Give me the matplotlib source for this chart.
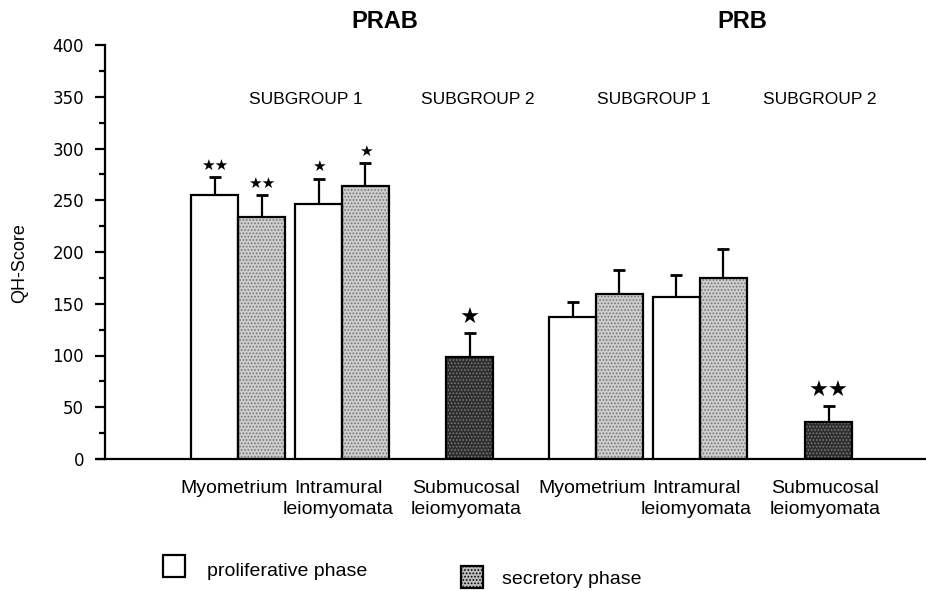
import numpy as np
import matplotlib.pyplot as plt
from matplotlib.patches import Rectangle
from matplotlib.transforms import blended_transform_factory

plt.rcParams['font.family'] = ['Liberation Sans', 'DejaVu Sans']
plt.rcParams['hatch.linewidth'] = 0.8

# data (QH-score)
tissues = ["Myometrium", "Intramural\nleiomyomata", "Submucosal\nleiomyomata"]
panels = ["PRAB", "PRB"]

prab_prolif = [255, 246]
prab_prolif_err = [17, 25]
prab_secr = [234, 264]
prab_secr_err = [21, 22]
prab_sub = 99
prab_sub_err = 23

prb_prolif = [137, 157]
prb_prolif_err = [15, 21]
prb_secr = [159, 175]
prb_secr_err = [24, 28]
prb_sub = 36
prb_sub_err = 15

# significance marks: prolif1, secr1, prolif2, secr2, submucosal
prab_marks = ["★★", "★★", "★", "★", "★"]
prb_marks = ["", "", "", "", "★★"]

# layout (x units ~ pixels right of the y axis)
W = 47
centers = [133, 237, 365, 491, 595, 724]

fig = plt.figure(figsize=(9.26, 5.91), dpi=100)
ax = fig.add_axes([97/926, 132/591, 829/926, 414/591])
ax.set_xlim(-8, 821)
ax.set_ylim(0, 400)


def stippled(xs, hs, face):
    ax.bar(xs, hs, width=W, color=face, edgecolor='#777777', linewidth=0,
           hatch='.....', zorder=2)
    ax.bar(xs, hs, width=W, facecolor='none', edgecolor='black',
           linewidth=1.6, zorder=3)


def up_err(xs, hs, es):
    ax.errorbar(xs, hs, yerr=[np.zeros(len(es)), es], fmt='none',
                ecolor='black', elinewidth=1.6, capsize=4, capthick=2,
                zorder=1)


def stars(x, y, s, size, off):
    ax.annotate(s, (x, y), xytext=(0, off), textcoords='offset points',
                ha='center', va='center', fontsize=size,
                family='DejaVu Sans', annotation_clip=False)


groups = [
    (centers[0:3], prab_prolif, prab_prolif_err, prab_secr, prab_secr_err,
     prab_sub, prab_sub_err, prab_marks),
    (centers[3:6], prb_prolif, prb_prolif_err, prb_secr, prb_secr_err,
     prb_sub, prb_sub_err, prb_marks),
]

for cs, pro, pro_e, sec, sec_e, sub, sub_e, marks in groups:
    xp = [c - W/2 for c in cs[:2]]
    xs = [c + W/2 for c in cs[:2]]
    ax.bar(xp, pro, width=W, color='white', edgecolor='black',
           linewidth=1.6, zorder=3)
    stippled(xs, sec, '#cdcdcd')
    stippled([cs[2]], [sub], '#2e2e2e')
    up_err(xp, pro, pro_e)
    up_err(xs, sec, sec_e)
    up_err([cs[2]], [sub], [sub_e])
    mx = [xp[0], xs[0], xp[1], xs[1], cs[2]]
    my = [pro[0] + pro_e[0], sec[0] + sec_e[0], pro[1] + pro_e[1],
          sec[1] + sec_e[1], sub + sub_e]
    for k in range(5):
        if marks[k]:
            big = k == 4
            stars(mx[k], my[k], marks[k], 16 if big else 11, 11 if big else 8.5)

# axes styling
for s in ['top', 'right']:
    ax.spines[s].set_visible(False)
ax.spines['left'].set_position(('data', 0))
ax.spines['left'].set_bounds(0, 400)
ax.spines['left'].set_linewidth(1.6)
ax.spines['bottom'].set_linewidth(1.6)
ax.set_xticks([])
ax.set_yticks(np.arange(0, 401, 50))
ax.set_yticks(np.arange(0, 401, 25), minor=True)
ax.tick_params(axis='y', which='major', length=7, width=1.6, pad=8,
               labelsize=12)
ax.tick_params(axis='y', which='minor', length=4, width=1.6)
for lab in ax.get_yticklabels():
    lab.set_family('DejaVu Sans')
fig.text(20/926, 1 - 263/591, "QH-Score", rotation=90, ha='center',
         va='center', fontsize=13)

# category labels (sit a little left of the bars, as in the original)
tr = blended_transform_factory(ax.transData, ax.transAxes)
for c, t in zip(centers, tissues * 2):
    ax.text(c - 4, -0.05, t, transform=tr, ha='center', va='top',
            fontsize=14, linespacing=1.3, multialignment='center')

# panel titles and subgroup labels
for x, t in zip([385, 742], panels):
    fig.text(x/926, 1 - 22/591, t, ha='center', va='center',
             fontsize=17, fontweight='bold')
sub_x = [306, 478, 654, 820]
sub_t = ["SUBGROUP 1", "SUBGROUP 2", "SUBGROUP 1", "SUBGROUP 2"]
for x, t in zip(sub_x, sub_t):
    fig.text(x/926, 1 - 100/591, t, ha='center', va='center', fontsize=12.5)

# legend
r1 = Rectangle((163/926, 1 - 577/591), 22/926, 22/591, transform=fig.transFigure,
               facecolor='white', edgecolor='black', linewidth=1.6)
r2 = Rectangle((461/926, 1 - 588/591), 22/926, 22/591, transform=fig.transFigure,
               facecolor='#bdbdbd', edgecolor='black', linewidth=1.6,
               hatch='.....')
fig.patches.extend([r1, r2])
fig.text(207/926, 1 - 571/591, "proliferative phase", va='center', fontsize=14)
fig.text(502/926, 1 - 580/591, "secretory phase", va='center', fontsize=14)

fig.savefig("out.png", dpi=100)
